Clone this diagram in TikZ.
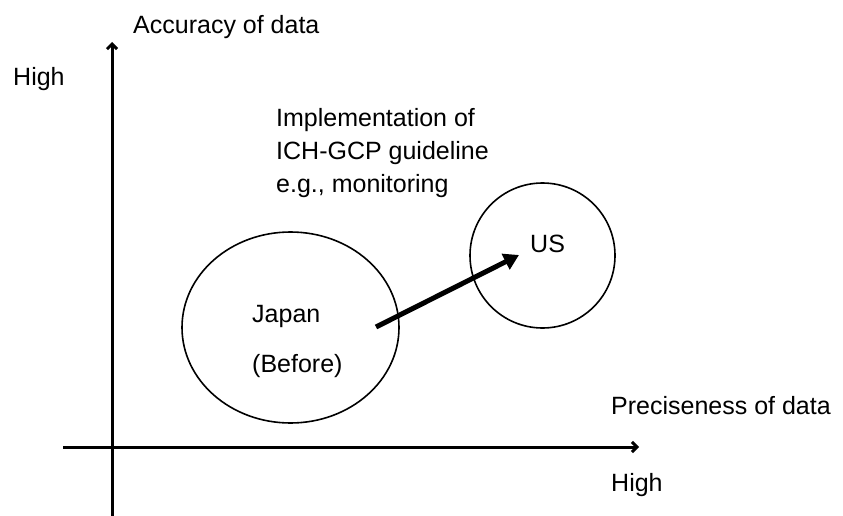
\documentclass[tikz,border=0pt]{standalone}
\usepackage{fontspec}
\setmainfont{Liberation Sans}
\usetikzlibrary{arrows.meta,shapes.geometric}
\begin{document}
\begin{tikzpicture}[x=1pt,y=-1pt,
  lbl/.style={inner sep=0pt, anchor=base west, font=\fontsize{25}{30}\selectfont},
  axis/.style={line width=3pt, -{Straight Barb[length=5pt,width=10pt]}},
  region/.style={draw, ellipse, line width=1.6pt, inner sep=0pt},
  move/.style={line width=5pt, -{Triangle[length=15pt,width=17pt]}}]
\useasboundingbox (0,0) rectangle (843,516);
% axes
\coordinate (yb) at (112,516);
\coordinate (yt) at (112,42);
\coordinate (xl) at (63,447);
\coordinate (xr) at (639,447);
\draw[axis] (yb) -- (yt);
\draw[axis] (xl) -- (xr);
% regions
\node[region, minimum width=217pt, minimum height=191pt] (japan) at (290.5,327.5) {};
\node[region, minimum width=145pt, minimum height=145pt] (us) at (542.5,255.5) {};
% labels
\node[lbl] (acc) at (133,34) {Accuracy of data};
\node[lbl] (hiy) at (13,86) {High};
\node[lbl] (impl1) at (276,127) {Implementation of};
\node[lbl] (impl2) at (276,160) {ICH-GCP guideline};
\node[lbl] (impl3) at (276,192) {e.g., monitoring};
\node[lbl] (jp) at (252,322) {Japan};
\node[lbl] (bf) at (252,372) {(Before)};
\node[lbl] (uslbl) at (530,252) {US};
\node[lbl] (prec) at (611,414) {Preciseness of data};
\node[lbl] (hix) at (611,491) {High};
% movement arrow
\coordinate (from) at (376,327);
\coordinate (to) at (519,255);
\draw[move] (from) -- (to);
\end{tikzpicture}
\end{document}
